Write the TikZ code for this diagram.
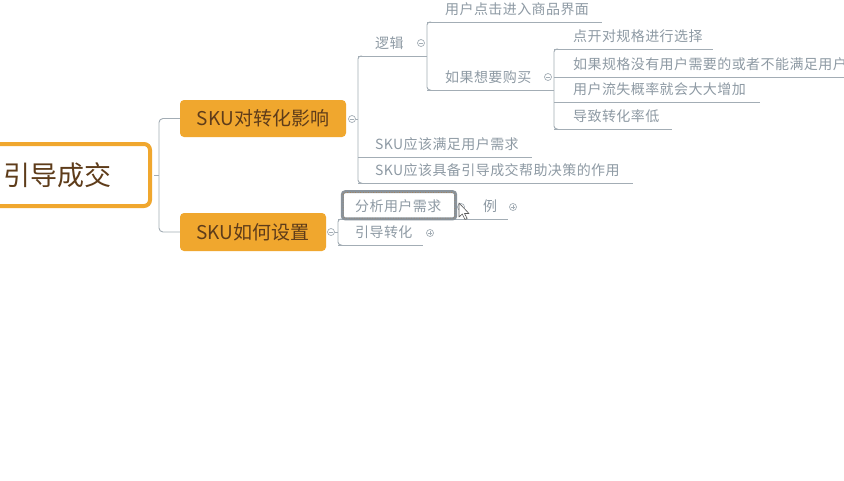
\documentclass[tikz,border=0pt]{standalone}
\usepackage{fontspec}
\newfontfamily\cjk{Noto Sans CJK SC}
\newfontfamily\cjkls{Noto Sans CJK SC}[LetterSpace=3]
\definecolor{orng}{HTML}{F0A72E}
\definecolor{brn}{HTML}{5E3C1A}
\definecolor{lgray}{HTML}{A3ADB5}
\definecolor{tgray}{HTML}{8E9AA4}
\definecolor{selgray}{HTML}{8A939B}
\definecolor{seldot}{HTML}{B07A40}
\tikzset{
  conn/.style={draw=lgray, line width=0.9pt},
  rootbox/.style={draw=orng, line width=4pt, fill=white, rounded corners=6pt,
    font=\cjk\fontsize{27}{32}\selectfont, text=brn,
    minimum width=184pt, minimum height=62pt, inner sep=0pt},
  mainbox/.style={fill=orng, rounded corners=4pt,
    font=\cjk\fontsize{19}{23}\selectfont, text=brn, inner sep=0pt},
  leaf/.style={font=\cjkls\fontsize{14}{17}\selectfont, text=tgray,
    anchor=south west, inner xsep=0pt, inner ysep=4pt,
    text height=10pt, text depth=3pt, align=left, text width=#1},
  fold/.style={circle, draw=lgray, fill=white, line width=0.7pt,
    minimum size=7pt, inner sep=0pt},
  foldminus/.style={fold, path picture={
    \draw[lgray, line width=0.7pt]
      ([xshift=-2pt]path picture bounding box.center) --
      ([xshift=2pt]path picture bounding box.center);}},
  foldplus/.style={fold, path picture={
    \draw[lgray, line width=0.7pt]
      ([xshift=-2pt]path picture bounding box.center) --
      ([xshift=2pt]path picture bounding box.center);
    \draw[lgray, line width=0.7pt]
      ([yshift=-2pt]path picture bounding box.center) --
      ([yshift=2pt]path picture bounding box.center);}},
  selbox/.style={draw=selgray, line width=3pt, rounded corners=3pt,
    minimum width=113.4pt, minimum height=27.3pt, inner sep=0pt},
  cursorst/.style={fill=white, draw=black!65, line width=0.6pt, line join=round},
}
\begin{document}
\begin{tikzpicture}[x=1pt,y=-1pt]
\useasboundingbox (0,0) rectangle (844,480);
\clip (0,0) rectangle (844,480);
\fill[white] (0,0) rectangle (844,480);

% root and main topics
\node[rootbox] (root) at (58,175) {引导成交};
\node[mainbox, minimum width=166pt, minimum height=37pt] (n1) at (263,118.5) {SKU对转化影响};
\node[mainbox, minimum width=146pt, minimum height=38pt] (n2) at (253,232) {SKU如何设置};
\coordinate (j0) at (159,175);
\draw[conn] ([xshift=2pt]root.east) -- (j0);
\draw[conn, rounded corners=4pt] (n1.west) -| (j0) |- (n2.west);

% children of SKU对转化影响
\node[leaf=69] (l1) at (358,56) {\hspace*{17pt}逻辑};
\node[leaf=174] (l2) at (358,157) {\hspace*{17pt}SKU应该满足用户需求};
\node[leaf=275] (l3) at (358,183) {\hspace*{17pt}SKU应该具备引导成交帮助决策的作用};

% children of 逻辑
\node[leaf=175] (k1) at (427,22) {\hspace*{18pt}用户点击进入商品界面};
\node[leaf=127] (k2) at (427,90) {\hspace*{18pt}如果想要购买};

% children of 如果想要购买
\node[leaf=159] (m1) at (554,49) {\hspace*{19pt}点开对规格进行选择};
\node[leaf=340] (m2) at (554,77) {\hspace*{19pt}如果规格没有用户需要的或者不能满足用户};
\node[leaf=206] (m3) at (554,102) {\hspace*{19pt}用户流失概率就会大大增加};
\node[leaf=118] (m4) at (554,129) {\hspace*{19pt}导致转化率低};

% children of SKU如何设置
\node[leaf=119] (p1) at (338,219) {\hspace*{17pt}分析用户需求};
\node[leaf=85] (p2) at (338,245) {\hspace*{17pt}引导转化};
\node[leaf=51] (q1) at (457,219) {\hspace*{26pt}例};

\foreach \n in {l1,l2,l3,k1,k2,m1,m2,m3,m4,p1,p2,q1}
  \draw[conn] (\n.south west) -- (\n.south east);

% spines
\draw[conn, rounded corners=3pt] ([xshift=4pt]l1.south west) -- (l1.south west) -- (l3.south west) -- ([xshift=4pt]l3.south west);
\draw[conn, rounded corners=3pt] ([xshift=4pt]k1.south west) -- (k1.south west) -- (k2.south west) -- ([xshift=4pt]k2.south west);
\draw[conn, rounded corners=3pt] ([xshift=4pt]m1.south west) -- (m1.south west) -- (m4.south west) -- ([xshift=4pt]m4.south west);
\draw[conn, rounded corners=3pt] ([xshift=4pt]p1.south west) -- (p1.south west) -- (p2.south west) -- ([xshift=4pt]p2.south west);

% fold circles
\node[foldminus] (c1) at (352,119) {};
\draw[conn] (c1.east) -- (c1.east -| l1.south west);
\node[foldminus] (c2) at (331,232) {};
\draw[conn] (c2.east) -- (c2.east -| p1.south west);
\node[foldminus] (cl1) at (421,43) {};
\node[foldminus] (ck2) at (548,77) {};
\node[foldminus] (cp1) at (461,207) {};
\node[foldplus] (cq1) at (513,207) {};
\node[foldplus] (cp2) at (430,233) {};

% selection frame around 分析用户需求
\node[selbox] (sel) at (399,205.3) {};
\draw[seldot, line width=0.6pt, dotted, rounded corners=2pt]
  ([shift={(2.3,2.3)}]sel.north west) rectangle ([shift={(-2.3,-2.3)}]sel.south east);

% mouse pointer
\coordinate (cur) at (459,203);
\draw[cursorst] (cur) -- ++(0,14) -- ++(3.3,-3) -- ++(2.7,5.5) -- ++(2.2,-1)
  -- ++(-2.7,-5) -- ++(4.5,0) -- cycle;
\end{tikzpicture}
\end{document}
